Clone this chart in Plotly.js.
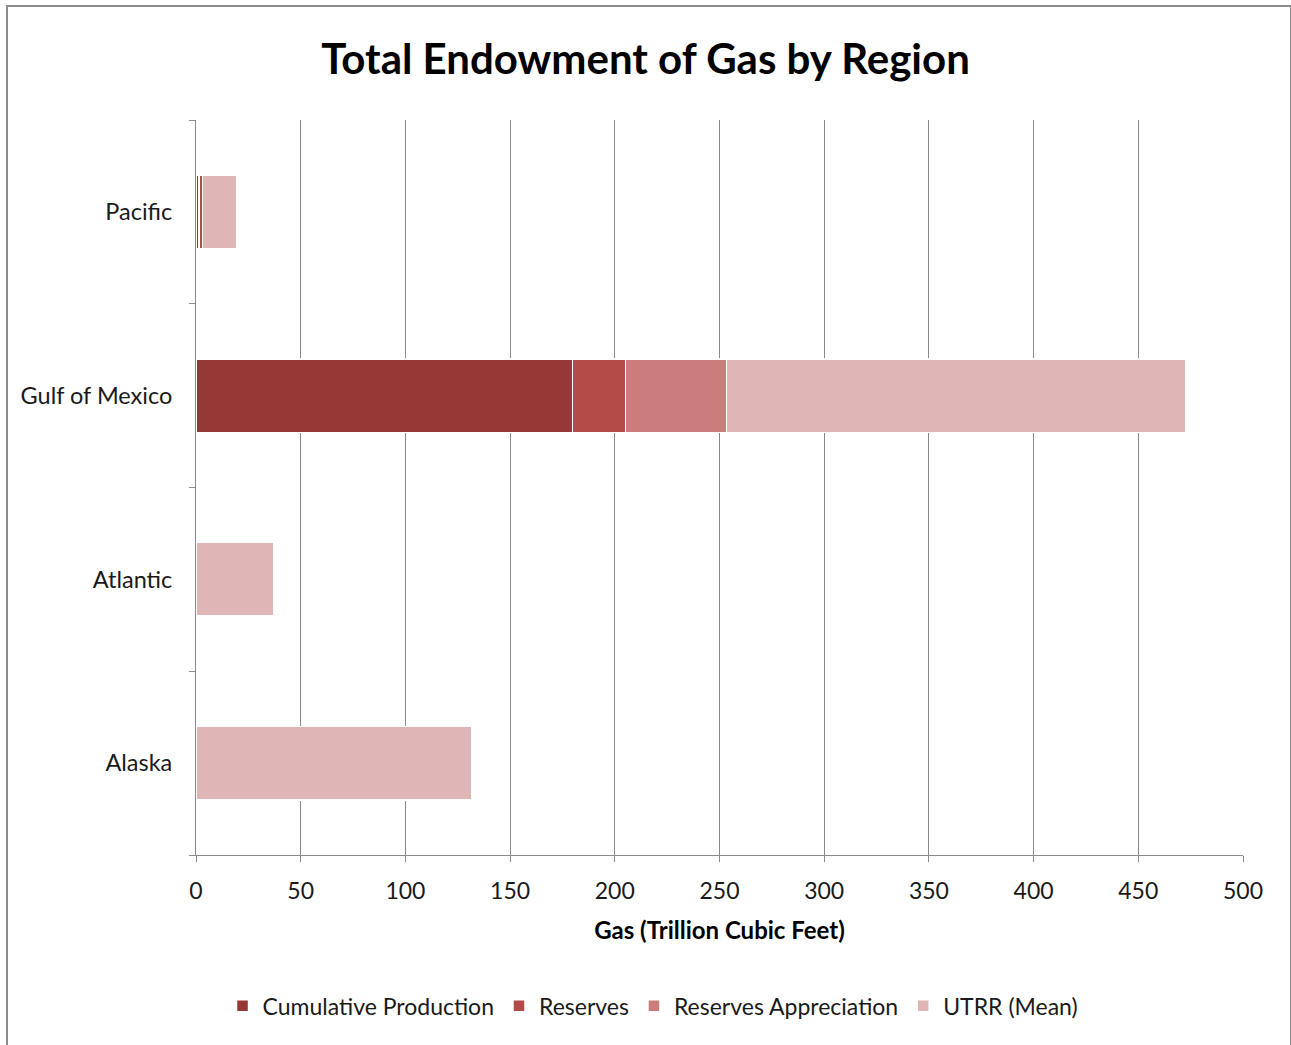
<!DOCTYPE html>
<html>
<head>
<meta charset="utf-8">
<script src="https://cdn.plot.ly/plotly-3.0.1.min.js"></script>
<style>
  html, body { margin: 0; padding: 0; background: #ffffff; }
  #chart { width: 1291px; height: 1045px; position: absolute; left: 0; top: 0; }
  #frame { position: absolute; left: 6px; top: 5px; width: 1282px; height: 1060px; border: 2px solid #8c8c8c; pointer-events: none; }
</style>
</head>
<body>
<div id="chart"></div>
<div id="frame"></div>
<script>
const regions = ['Alaska', 'Atlantic', 'Gulf of Mexico', 'Pacific'];
const cumulativeProduction = [0, 0, 179.7, 1.5];
const reserves = [0, 0, 25.3, 1.5];
const reservesAppreciation = [0, 0, 48.4, 0];
const utrrMean = [131.8, 37.2, 219.4, 16.4];
const seriesNames = ['Cumulative Production', 'Reserves', 'Reserves Appreciation', 'UTRR (Mean)'];
const seriesColors = ['#953836', '#b34b48', '#cb7d7b', '#dfb5b5'];
const xTicks = [0, 50, 100, 150, 200, 250, 300, 350, 400, 450, 500];

const FONT = "Lato, 'Open Sans', sans-serif";
const values = [cumulativeProduction, reserves, reservesAppreciation, utrrMean];

const traces = values.map((v, i) => ({
  type: 'bar',
  orientation: 'h',
  y: regions,
  x: v,
  name: seriesNames[i],
  marker: { color: seriesColors[i], line: { color: '#ffffff', width: 1.5 } },
  hoverinfo: 'x+y+name'
}));

const layout = {
  width: 1291,
  height: 1045,
  barmode: 'stack',
  bargap: 0.6,
  paper_bgcolor: '#ffffff',
  plot_bgcolor: '#ffffff',
  margin: { l: 196, r: 48, t: 120, b: 190, autoexpand: false },
  font: { family: FONT, size: 23, color: '#1a1a1a' },
  title: {
    text: '<b>Total Endowment of Gas by Region</b>',
    font: { family: FONT, size: 42, color: '#000000' },
    x: 0.5, xanchor: 'center', y: 0.943, yanchor: 'middle'
  },
  xaxis: {
    range: [0, 500],
    tickvals: xTicks,
    ticktext: xTicks.map(String),
    showgrid: true,
    gridcolor: '#8a8a8a',
    gridwidth: 1,
    zeroline: false,
    showline: true,
    linecolor: '#8a8a8a',
    linewidth: 1,
    ticks: 'outside',
    ticklen: 6,
    tickcolor: '#8a8a8a',
    ticklabelstandoff: 9,
    automargin: false,
    tickfont: { family: FONT, size: 23, color: '#1a1a1a' },
    title: { text: '<b>Gas (Trillion Cubic Feet)</b>', font: { family: FONT, size: 24, color: '#000000' }, standoff: 19 }
  },
  yaxis: {
    type: 'category',
    categoryorder: 'array',
    categoryarray: regions,
    showgrid: false,
    showline: true,
    linecolor: '#8a8a8a',
    linewidth: 1,
    ticks: 'outside',
    tickson: 'boundaries',
    ticklen: 6,
    tickcolor: '#8a8a8a',
    ticklabelstandoff: 18,
    automargin: false,
    tickfont: { family: FONT, size: 23.5, color: '#1a1a1a' }
  },
  legend: {
    orientation: 'h',
    x: 0.4365, xanchor: 'center',
    y: -0.205, yanchor: 'middle',
    font: { family: FONT, size: 23, color: '#1a1a1a' },
    itemwidth: 30,
    traceorder: 'normal'
  },
  showlegend: true
};

Plotly.newPlot('chart', traces, layout, { displayModeBar: false });
</script>
</body>
</html>
